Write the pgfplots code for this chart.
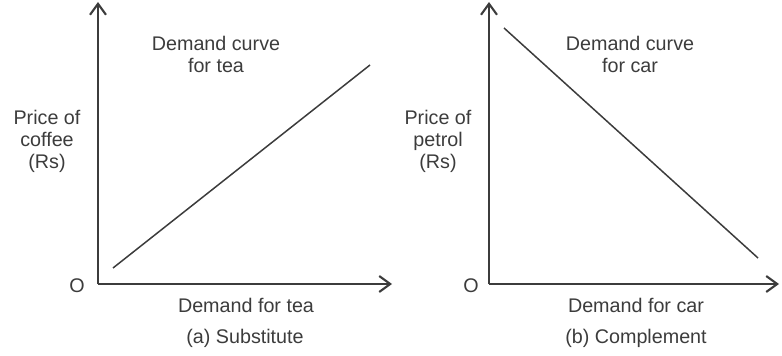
\documentclass[border=0pt]{standalone}
\usepackage{pgfplots}
\pgfplotsset{compat=1.18}
\usepackage{fontspec}
\setmainfont{Liberation Sans}
\usetikzlibrary{arrows.meta}
\definecolor{ink}{HTML}{3C3C3C}
\tikzset{lbl/.style={text=ink, font=\fontsize{19.8}{22}\selectfont, align=center, inner sep=0pt}}
\pgfplotsset{
  econ/.style={
    scale only axis, clip=false,
    axis lines=left,
    xtick=\empty, ytick=\empty,
    xmin=0, ymin=0, ymax=282,
    height=282bp,
    axis line style={ink, line width=2.1bp, -{Straight Barb[length=11bp,width=16bp,line width=2.1bp]}},
  }
}
\begin{document}
\begin{tikzpicture}
\useasboundingbox (0,0) rectangle (782bp,356bp);
\begin{axis}[econ, at={(98bp,72bp)}, anchor=south west, xmax=294, width=294bp]
\addplot[ink, line width=1.5bp, no marks] coordinates {(15,16) (272,219)};
\node[lbl] at (axis cs:118,230) {Demand curve\\for tea};
\node[lbl] at (axis cs:-51,143) {Price of\\coffee\\(Rs)};
\node[lbl] at (axis cs:-21,-2) {O};
\node[lbl] at (axis cs:148,-21) {Demand for tea};
\node[lbl] at (axis cs:147,-54) {(a) Substitute};
\end{axis}
\begin{axis}[econ, at={(489bp,72bp)}, anchor=south west, xmax=290, width=290bp]
\addplot[ink, line width=1.5bp, no marks] coordinates {(15,256) (269,26)};
\node[lbl] at (axis cs:141,230) {Demand curve\\for car};
\node[lbl] at (axis cs:-51,143) {Price of\\petrol\\(Rs)};
\node[lbl] at (axis cs:-18,-2) {O};
\node[lbl] at (axis cs:147,-21) {Demand for car};
\node[lbl] at (axis cs:147,-54) {(b) Complement};
\end{axis}
\end{tikzpicture}
\end{document}
